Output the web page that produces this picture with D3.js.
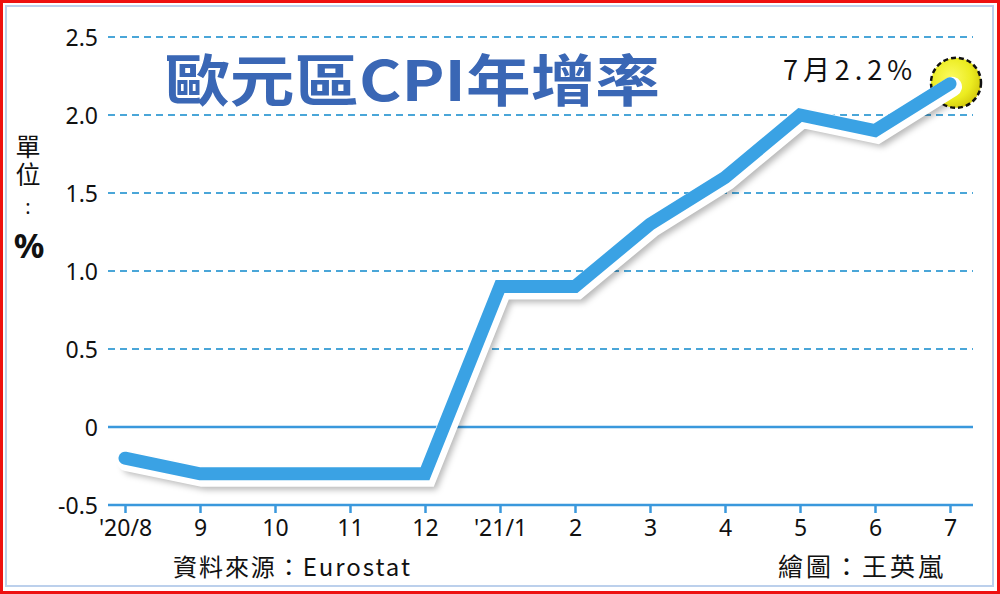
<!DOCTYPE html>
<html><head><meta charset="utf-8">
<script src="https://cdn.jsdelivr.net/npm/d3@7"></script>
<style>body{margin:0;background:#fff}svg{display:block}</style>
</head><body>
<svg id="c" width="1000" height="594"></svg>
<script>
const categories = ["'20/8","9","10","11","12","'21/1","2","3","4","5","6","7"];
const values = [-0.2,-0.3,-0.3,-0.3,-0.3,0.9,0.9,1.3,1.6,2.0,1.9,2.2];
const yTicks = [-0.5,0,0.5,1.0,1.5,2.0,2.5];
const yTickLabels = ["-0.5","0","0.5","1.0","1.5","2.0","2.5"];
const title = "歐元區CPI年增率";
const note = "7月2.2%";
const unitWord = "單位";
const unitSym = "%";
const source = "資料來源：Eurostat";
const credit = "繪圖：王英嵐";

const svg = d3.select("#c");
const defs = svg.append("defs");
const f = defs.append("filter").attr("id","sh").attr("x","-10%").attr("y","-10%").attr("width","120%").attr("height","130%");
f.append("feGaussianBlur").attr("stdDeviation",3);
const rg = defs.append("radialGradient").attr("id","yg").attr("cx","40%").attr("cy","40%").attr("r","60%");
rg.append("stop").attr("offset","0%").attr("stop-color","#fbfb60");
rg.append("stop").attr("offset","70%").attr("stop-color","#ecec20");
rg.append("stop").attr("offset","100%").attr("stop-color","#d8d010");

// frames
svg.append("rect").attr("x",1.5).attr("y",1.5).attr("width",997).attr("height",591).attr("fill","none").attr("stroke","#ee1111").attr("stroke-width",3);
svg.append("rect").attr("x",6).attr("y",6).attr("width",987).attr("height",580).attr("fill","none").attr("stroke","#bcd0ec").attr("stroke-width",2);

const x = d3.scalePoint().domain(categories).range([125,950]);
const y = d3.scaleLinear().domain([-0.5,2.5]).range([505,37]);

// gridlines
const grid = svg.append("g");
yTicks.forEach(t=>{
  const solid = (t===0 || t===-0.5);
  grid.append("line").attr("x1",108).attr("x2",973).attr("y1",y(t)).attr("y2",y(t))
    .attr("stroke", solid ? "#3a98dc" : "#4aa6d8").attr("stroke-width", solid?2.5:2)
    .attr("stroke-dasharray", solid?null:"7,5");
});

// y axis labels
const yAxis = d3.axisLeft(y).tickValues(yTicks).tickFormat((d,i)=>yTickLabels[i]).tickSize(0).tickPadding(0);
const ya = svg.append("g").attr("transform","translate(98,0)").call(yAxis);
ya.select(".domain").remove();
ya.selectAll("text").attr("font-family","'Noto Sans','DejaVu Sans',sans-serif").attr("font-size",23).attr("fill","#111").attr("dy","0.35em");

// x axis
const xAxis = d3.axisBottom(x).tickSize(8).tickPadding(7);
const xa = svg.append("g").attr("transform",`translate(0,${y(-0.5)})`).call(xAxis);
xa.select(".domain").remove();
xa.selectAll("line").attr("stroke","#3a98dc").attr("stroke-width",2.5);
xa.selectAll("text").attr("font-family","'Noto Sans','DejaVu Sans',sans-serif").attr("font-size",23).attr("fill","#111");

// title
svg.append("text").attr("x",165).attr("y",101).text(title)
  .attr("font-family","'Noto Sans CJK TC','Noto Sans CJK SC',sans-serif").attr("font-weight",700)
  .attr("font-size",56).attr("fill","#3a67b5").attr("textLength",495).attr("lengthAdjust","spacingAndGlyphs");

// unit label
svg.append("text").attr("x",28).attr("y",134).text(unitWord)
  .style("writing-mode","vertical-rl").attr("letter-spacing",3)
  .attr("font-family","'Noto Sans CJK TC',sans-serif").attr("font-size",25).attr("fill","#111");
svg.append("text").attr("x",28).attr("y",214).attr("text-anchor","middle").text(":")
  .attr("font-family","'Noto Sans','DejaVu Sans',sans-serif").attr("font-size",20).attr("fill","#111");
svg.append("text").attr("x",29).attr("y",258).attr("text-anchor","middle").text(unitSym)
  .attr("font-family","'Noto Sans','DejaVu Sans',sans-serif").attr("font-size",34).attr("font-weight",700).attr("fill","#111");

// line
const line = d3.line().x((d,i)=>x(categories[i])).y(d=>y(d));
svg.append("path").datum(values).attr("d",line).attr("fill","none").attr("stroke","#000").attr("stroke-opacity",0.28)
  .attr("stroke-width",16).attr("stroke-linejoin","miter").attr("stroke-linecap","round")
  .attr("transform","translate(6,8)").attr("filter","url(#sh)");
// marker circle
const lx = x(categories[categories.length-1]), ly = y(values[values.length-1]);
svg.append("circle").attr("cx",lx+6).attr("cy",ly-1).attr("r",25).attr("fill","url(#yg)")
  .attr("stroke","#111").attr("stroke-width",2.5).attr("stroke-dasharray","5,3");
svg.append("path").datum(values).attr("d",line).attr("fill","none").attr("stroke","#fff")
  .attr("stroke-width",20).attr("stroke-linejoin","miter").attr("stroke-linecap","round")
  .attr("transform","translate(2,3)");
svg.append("path").datum(values).attr("d",line).attr("fill","none").attr("stroke","#3aa2e4")
  .attr("stroke-width",13).attr("stroke-linejoin","miter").attr("stroke-linecap","round");

// annotation
svg.append("text").attr("x",783).attr("y",80).text(note)
  .attr("font-family","'Noto Sans CJK TC',sans-serif").attr("font-size",27).attr("fill","#111")
  .attr("textLength",129).attr("lengthAdjust","spacing");

// footer
svg.append("text").attr("x",173).attr("y",576).text(source)
  .attr("font-family","'Noto Sans CJK TC',sans-serif").attr("font-size",24).attr("fill","#111")
  .attr("textLength",237).attr("lengthAdjust","spacing");
svg.append("text").attr("x",778).attr("y",576).text(credit)
  .attr("font-family","'Noto Sans CJK TC',sans-serif").attr("font-size",25).attr("fill","#111")
  .attr("textLength",165).attr("lengthAdjust","spacing");
</script>
</body></html>
